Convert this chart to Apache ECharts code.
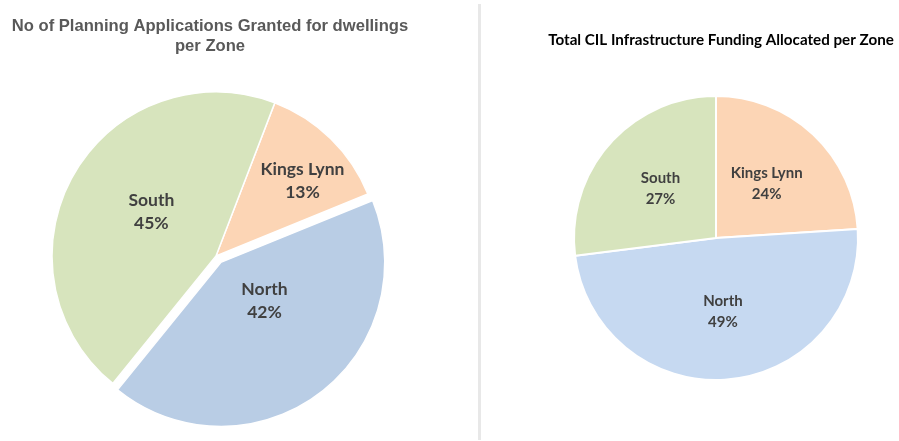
<!DOCTYPE html>
<html lang="en">
<head>
	<meta charset="UTF-8">
	<title>Zones</title>
	<script type="text/javascript" src="https://cdn.jsdelivr.net/npm/echarts@6/dist/echarts.min.js"></script>
	<style type="text/css">
		body{margin:0;background:#fff;}
	</style>
</head>
<body>
	<div id="main" style="width:899px;height:441px;"></div>
	<script>
		// data (percentages)
		var zones = ['Kings Lynn', 'North', 'South'];
		var dwellingsPct = [13, 42, 45];
		var cilPct = [24, 49, 27];

		var leftColors = ['#fcd5b5', '#b9cde5', '#d7e4bd'];
		var rightColors = ['#fcd5b5', '#c6d9f1', '#d7e4bd'];
		// nudges so the left labels sit where excel put them
		var leftNudge = [[27, -14], [-7, -30], [9, -2]];

		function build(vals, colors, explode){
			var arr = [];
			for(var i = 0; i < zones.length; i++){
				arr.push({
					name: zones[i],
					value: vals[i],
					selected: zones[i] === explode,
					itemStyle: {color: colors[i]}
				});
			}
			return arr;
		}

		var chart = echarts.init(document.getElementById('main'));
		var option = {
			animation: false,
			backgroundColor: '#fff',
			title: [{
				text: 'No of Planning Applications Granted for dwellings\nper Zone',
				left: 205,
				top: 11,
				textAlign: 'center',
				textStyle: {
					fontFamily: 'Liberation Sans',
					fontSize: 16.6,
					fontWeight: 'bold',
					color: '#595959',
					lineHeight: 20
				}
			}, {
				text: 'Total CIL Infrastructure Funding Allocated per Zone',
				left: 716,
				top: 28,
				textAlign: 'center',
				textStyle: {
					fontFamily: 'Lato',
					fontSize: 15.2,
					fontWeight: 'bold',
					color: '#000'
				}
			}],
			graphic: [{
				type: 'rect',
				shape: {x: 478, y: 4, width: 3, height: 436},
				style: {fill: '#e8e8e8'}
			}],
			series: [{
				type: 'pie',
				center: [216, 256],
				radius: 164,
				startAngle: 69,
				selectedMode: 'single',
				selectedOffset: 8,
				silent: true,
				itemStyle: {borderColor: '#fff', borderWidth: 1.5},
				label: {
					position: 'inside',
					formatter: '{b}\n{d}%',
					fontFamily: 'Lato',
					fontSize: 17.5,
					fontWeight: 'bold',
					color: '#404040',
					lineHeight: 23
				},
				labelLayout: function(p){
					return {dx: leftNudge[p.dataIndex][0], dy: leftNudge[p.dataIndex][1]};
				},
				data: build(dwellingsPct, leftColors, 'North')
			}, {
				type: 'pie',
				center: [716, 238],
				radius: 142,
				startAngle: 90,
				silent: true,
				itemStyle: {borderColor: '#fff', borderWidth: 2},
				label: {
					position: 'inside',
					formatter: '{b}\n{d}%',
					fontFamily: 'Lato',
					fontSize: 15,
					fontWeight: 'bold',
					color: '#404040',
					lineHeight: 21
				},
				data: build(cilPct, rightColors, '')
			}]
		};
		chart.setOption(option);
	</script>
</body>
</html>
